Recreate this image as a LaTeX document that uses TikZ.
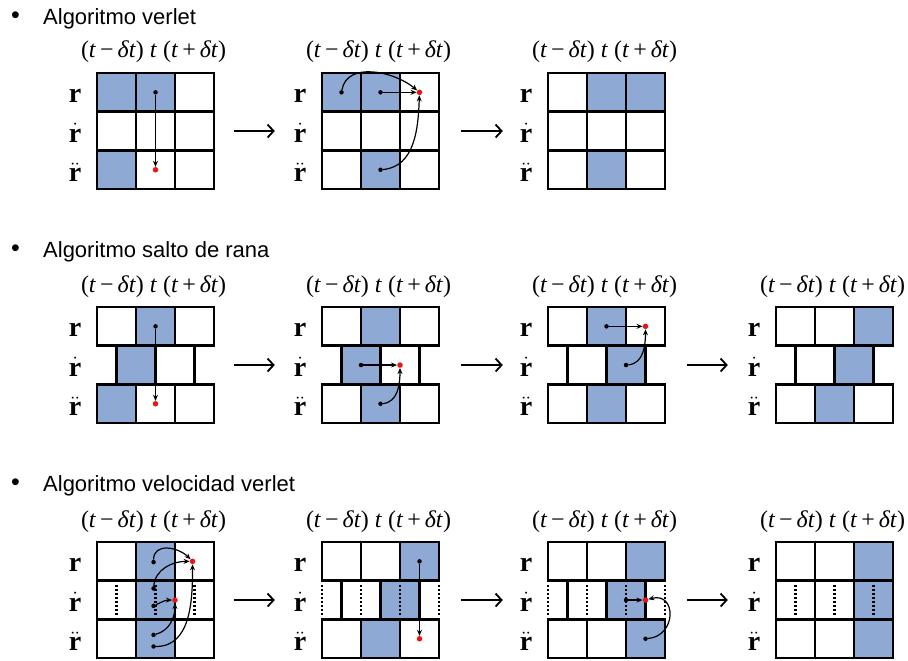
\documentclass[tikz,border=0pt]{standalone}
\usepackage{fontspec}
\setmainfont{Liberation Serif}
\newfontfamily\titlefont{Liberation Sans}
\usetikzlibrary{arrows.meta}
\definecolor{cellblue}{RGB}{142,170,212}
\definecolor{dotred}{RGB}{235,20,20}
\tikzset{
  gridline/.style={line width=2.6pt},
  dotline/.style={line width=2.2pt, dash pattern=on 2pt off 2pt},
  arr/.style={line width=1.2pt, -{Stealth[length=6pt,width=5pt]}},
  bigarrow/.style={line width=1.8pt, -{Straight Barb[length=6pt,width=13pt]}},
  sdot/.style={circle, fill=black, inner sep=0pt, minimum size=4.5pt},
  rdot/.style={circle, fill=dotred, inner sep=0pt, minimum size=5.5pt},
  titletext/.style={font=\titlefont\fontsize{22}{26}\selectfont, anchor=base west, inner sep=0pt},
  bullettext/.style={font=\titlefont\fontsize{25}{27}\selectfont, anchor=base, inner sep=0pt},
  hdr/.style={font=\fontsize{24}{26}\selectfont, anchor=base, inner sep=0pt},
  lbl/.style={font=\fontsize{28}{30}\selectfont, anchor=base, inner sep=0pt},
  gridbox/.style={inner sep=0pt, minimum width=117pt, minimum height=116.1pt},
  cellunits/.style={x=39pt, y=-38.7pt}
}
\newcommand\fillcells[1]{\foreach \cc/\rr in {#1} {\fill[cellblue] (\cc,\rr) rectangle ++(1,1);}}
\newcommand\stdlines{\draw[gridline] (0,0) rectangle (3,3) (1,0)--(1,3) (2,0)--(2,3) (0,1)--(3,1) (0,2)--(3,2);}
\newcommand\bricklines{\draw[gridline] (0,0) rectangle (3,1) (1,0)--(1,1) (2,0)--(2,1) (0,2) rectangle (3,3) (1,2)--(1,3) (2,2)--(2,3) (0.5,1)--(0.5,2) (1.5,1)--(1.5,2) (2.5,1)--(2.5,2);}
\newcommand\dottedat[1]{\foreach \xx in {#1} {\draw[dotline] (\xx,1.1)--(\xx,1.9);}}
\newcommand\framing[1]{%
  \node[gridbox] (#1) at (1.5,1.5) {};
  \node[hdr, yshift=15pt] (#1h) at (1.45,0) {(\textit{t}\,−\,\textit{δt}) \textit{t} (\textit{t}\,+\,\textit{δt})};
  \node[lbl, yshift=-10pt] (#1r) at (-0.56,0.5) {$\mathbf{r}$};
  \node[lbl, yshift=-11pt] (#1v) at (-0.56,1.5) {$\dot{\mathbf{r}}$};
  \node[lbl, yshift=-12pt] (#1a) at (-0.56,2.5) {$\ddot{\mathbf{r}}$};
}
\begin{document}
\begin{tikzpicture}[x=1pt, y=-1pt]
\useasboundingbox (0,0) rectangle (908,661);
\fill[white] (0,0) rectangle (908,661);

% ---------- section titles ----------
\node[bullettext] (b1) at (15.5,24) {•};
\node[titletext] (t1) at (43,25) {Algoritmo verlet};
\node[bullettext] (b2) at (15.5,256) {•};
\node[titletext] (t2) at (43,257) {Algoritmo salto de rana};
\node[bullettext] (b3) at (15.5,490) {•};
\node[titletext] (t3) at (43,491) {Algoritmo velocidad verlet};

% ================= Section 1: verlet =================
\begin{scope}[shift={(97,73)}, cellunits]
  \fillcells{0/0,1/0,0/2}
  \stdlines
  \framing{g11}
  \node[sdot] (g11p) at (1.5,0.5) {};
  \node[rdot] (g11e) at (1.5,2.5) {};
  \draw[arr] (g11p) -- (g11e);
\end{scope}
\begin{scope}[shift={(322,73)}, cellunits]
  \fillcells{0/0,1/0,1/2}
  \stdlines
  \framing{g12}
  \node[sdot] (g12p) at (0.5,0.5) {};
  \node[sdot] (g12q) at (1.5,0.5) {};
  \node[sdot] (g12s) at (1.5,2.5) {};
  \node[rdot] (g12e) at (2.5,0.5) {};
  \draw[arr] (g12p) to[out=80,in=140] (g12e);
  \draw[arr] (g12q) -- (g12e);
  \draw[arr] (g12s) to[out=5,in=-92] (g12e);
\end{scope}
\begin{scope}[shift={(548,73)}, cellunits]
  \fillcells{1/0,2/0,1/2}
  \stdlines
  \framing{g13}
\end{scope}
\draw[bigarrow] ([xshift=20pt]g11.east) -- ([xshift=-47pt]g12.west);
\draw[bigarrow] ([xshift=22pt]g12.east) -- ([xshift=-45pt]g13.west);

% ================= Section 2: salto de rana =================
\begin{scope}[shift={(97,307)}, cellunits]
  \fillcells{1/0,0.5/1,0/2}
  \bricklines
  \framing{g21}
  \node[sdot] (g21p) at (1.5,0.5) {};
  \node[rdot] (g21e) at (1.5,2.5) {};
  \draw[arr] (g21p) -- (g21e);
\end{scope}
\begin{scope}[shift={(322,307)}, cellunits]
  \fillcells{1/0,0.5/1,1/2}
  \bricklines
  \framing{g22}
  \node[sdot] (g22p) at (1,1.5) {};
  \node[sdot] (g22s) at (1.5,2.5) {};
  \node[rdot] (g22e) at (2,1.5) {};
  \draw[arr] (g22p) -- (g22e);
  \draw[arr] (g22s) to[out=5,in=-90] (g22e);
\end{scope}
\begin{scope}[shift={(548,307)}, cellunits]
  \fillcells{1/0,1.5/1,1/2}
  \bricklines
  \framing{g23}
  \node[sdot] (g23p) at (1.5,0.5) {};
  \node[sdot] (g23s) at (2,1.5) {};
  \node[rdot] (g23e) at (2.5,0.5) {};
  \draw[arr] (g23p) -- (g23e);
  \draw[arr] (g23s) to[out=5,in=-90] (g23e);
\end{scope}
\begin{scope}[shift={(776,307)}, cellunits]
  \fillcells{2/0,1.5/1,1/2}
  \bricklines
  \framing{g24}
\end{scope}
\draw[bigarrow] ([xshift=20pt]g21.east) -- ([xshift=-47pt]g22.west);
\draw[bigarrow] ([xshift=22pt]g22.east) -- ([xshift=-45pt]g23.west);
\draw[bigarrow] ([xshift=22pt]g23.east) -- ([xshift=-48pt]g24.west);

% ================= Section 3: velocidad verlet =================
\begin{scope}[shift={(97,542)}, cellunits]
  \fillcells{1/0,1/1,1/2}
  \stdlines
  \dottedat{0.5,1.5,2.5}
  \framing{g31}
  \node[sdot] (g31r) at (1.45,0.52) {};
  \node[sdot] (g31v) at (1.45,1.2) {};
  \node[sdot] (g31w) at (1.45,1.65) {};
  \node[sdot] (g31a) at (1.45,2.4) {};
  \node[sdot] (g31b) at (1.45,2.7) {};
  \node[rdot] (g31e) at (2.45,0.5) {};
  \node[rdot] (g31f) at (2,1.5) {};
  \draw[arr] (g31r) to[out=90,in=135,looseness=1.2] (g31e);
  \draw[arr] (g31v) to[out=85,in=180] (g31e);
  \draw[arr] (g31w) to[out=25,in=180] (g31f);
  \draw[arr] (g31a) to[out=15,in=-90] (g31f);
  \draw[arr] (g31b) to[out=0,in=-90] (g31e);
\end{scope}
\begin{scope}[shift={(322,542)}, cellunits]
  \fillcells{2/0,1.5/1,1/2}
  \bricklines
  \dottedat{0,1,2,3}
  \framing{g32}
  \node[sdot] (g32p) at (2.5,0.5) {};
  \node[rdot] (g32e) at (2.5,2.5) {};
  \draw[arr] (g32p) -- (g32e);
\end{scope}
\begin{scope}[shift={(548,542)}, cellunits]
  \fillcells{2/0,1.5/1,2/2}
  \bricklines
  \dottedat{0,1,2,3}
  \framing{g33}
  \node[sdot] (g33p) at (2,1.5) {};
  \node[sdot] (g33s) at (2.5,2.5) {};
  \node[rdot] (g33e) at (2.5,1.5) {};
  \draw[arr] (g33p) -- (g33e);
  \draw[arr] (g33s) to[out=5,in=15,looseness=1.9] (g33e);
\end{scope}
\begin{scope}[shift={(776,542)}, cellunits]
  \fillcells{2/0,2/1,2/2}
  \stdlines
  \dottedat{0.5,1.5,2.5}
  \framing{g34}
\end{scope}
\draw[bigarrow] ([xshift=20pt]g31.east) -- ([xshift=-47pt]g32.west);
\draw[bigarrow] ([xshift=22pt]g32.east) -- ([xshift=-45pt]g33.west);
\draw[bigarrow] ([xshift=22pt]g33.east) -- ([xshift=-48pt]g34.west);
\end{tikzpicture}
\end{document}
